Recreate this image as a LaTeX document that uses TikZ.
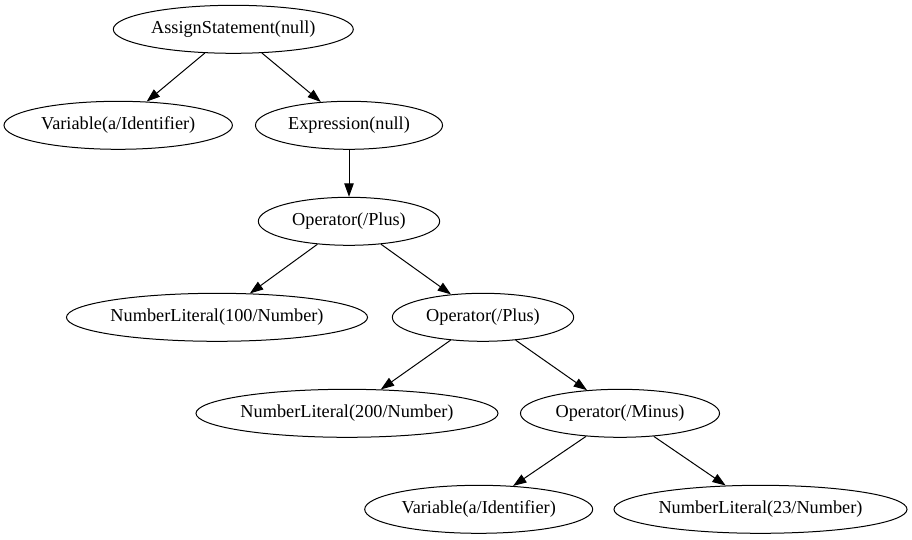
\documentclass[tikz,border=0pt]{standalone}
\usepackage{fontspec}
\setmainfont{Liberation Serif}
\usetikzlibrary{shapes.geometric,arrows.meta}
\begin{document}
\begin{tikzpicture}[x=0.75pt,y=-0.75pt,
  ell/.style={draw=black, ellipse, line width=0.75pt, inner sep=0pt, minimum height=36pt,
    label={[font=\fontsize{13.7pt}{16pt}\selectfont, inner sep=0pt]center:#1}},
  conn/.style={draw=black, line width=0.75pt, -{Triangle[length=10pt,width=7pt]}}]
\useasboundingbox (0,0) rectangle (912,539);
\node[ell={AssignStatement(null)}, minimum width=180pt] (a) at (233.3,29.3) {};
\node[ell={Variable(a/Identifier)}, minimum width=171.3pt] (v1) at (118.2,125.3) {};
\node[ell={Expression(null)}, minimum width=140.3pt] (e) at (349,125.3) {};
\node[ell={Operator(/Plus)}, minimum width=136pt] (p1) at (349,221.3) {};
\node[ell={NumberLiteral(100/Number)}, minimum width=225.8pt] (n100) at (217,317.3) {};
\node[ell={Operator(/Plus)}, minimum width=136pt] (p2) at (483,317.3) {};
\node[ell={NumberLiteral(200/Number)}, minimum width=226.5pt] (n200) at (347,413.3) {};
\node[ell={Operator(/Minus)}, minimum width=149.3pt] (m) at (620,413.3) {};
\node[ell={Variable(a/Identifier)}, minimum width=171pt] (v2) at (478.7,509.3) {};
\node[ell={NumberLiteral(23/Number)}, minimum width=219.8pt] (n23) at (760.5,509.3) {};
\draw[conn] (a) -- (v1);
\draw[conn] (a) -- (e);
\draw[conn] (e) -- (p1);
\draw[conn] (p1) -- (n100);
\draw[conn] (p1) -- (p2);
\draw[conn] (p2) -- (n200);
\draw[conn] (p2) -- (m);
\draw[conn] (m) -- (v2);
\draw[conn] (m) -- (n23);
\end{tikzpicture}
\end{document}
